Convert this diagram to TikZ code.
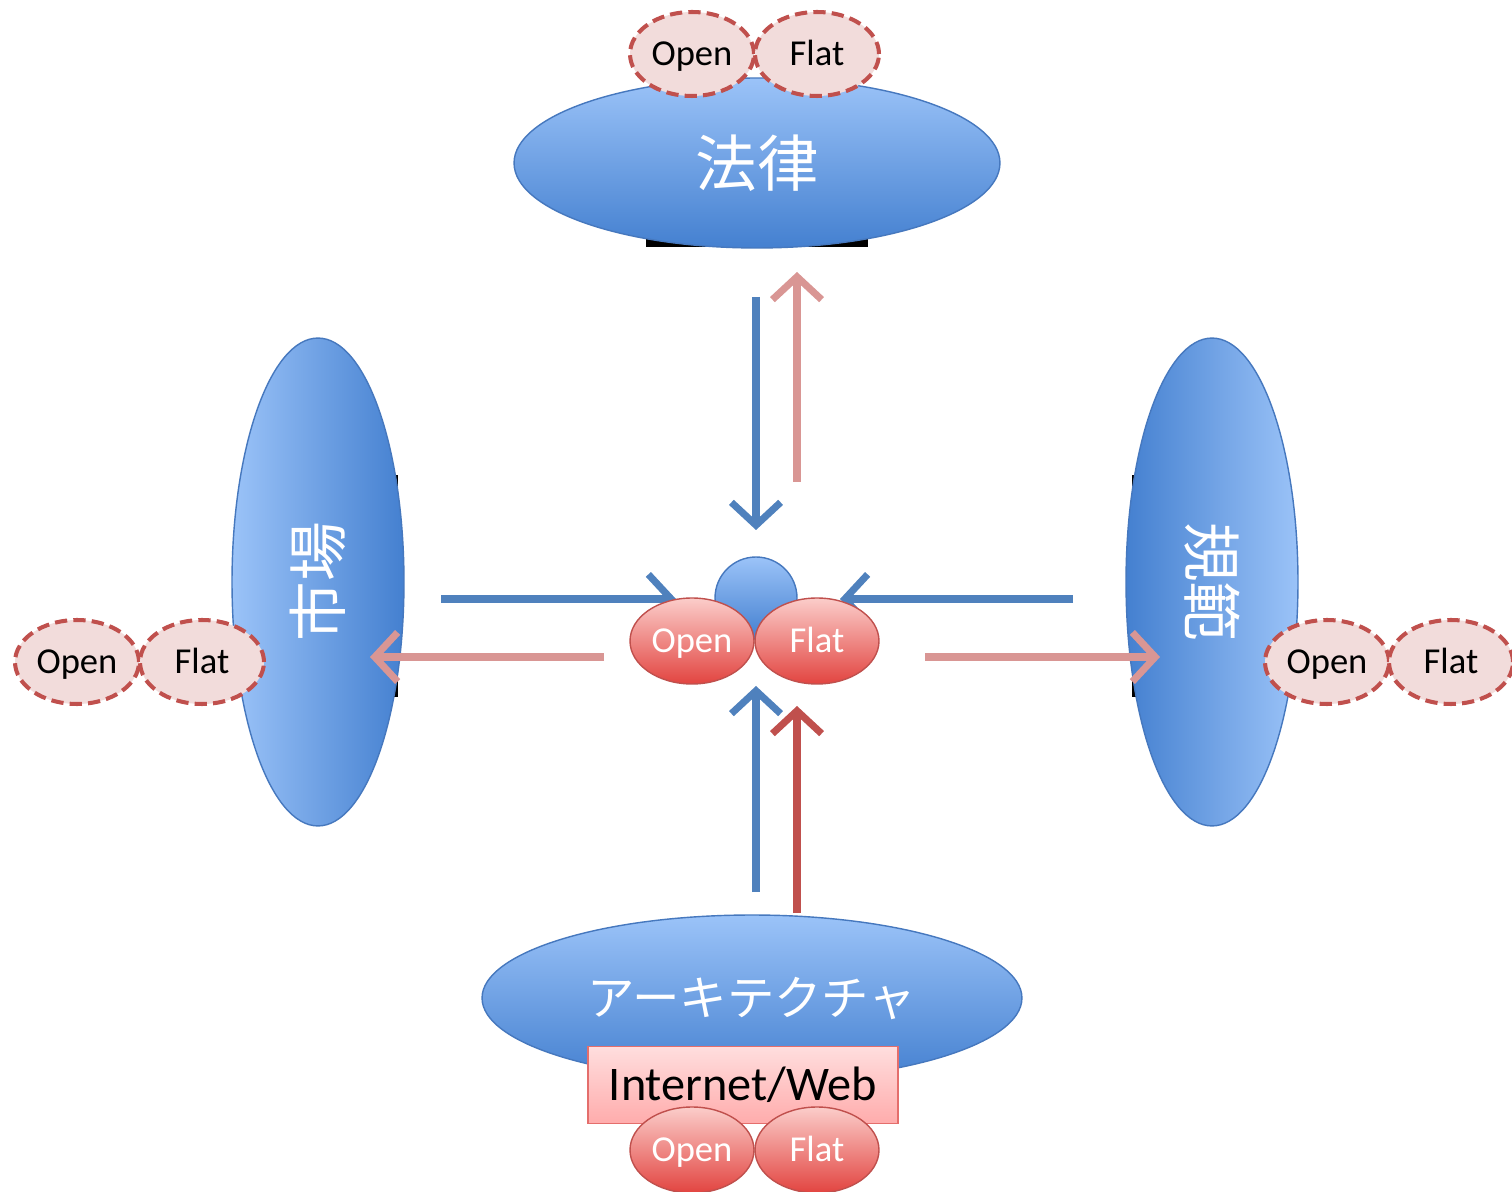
\documentclass[tikz,border=0pt]{standalone}
\usepackage{fontspec}
\setmainfont{Carlito}
\newfontfamily\cjk{Noto Sans CJK JP}
\usetikzlibrary{shapes.geometric,arrows.meta}
\definecolor{blueL}{RGB}{155,195,248}
\definecolor{blueD}{RGB}{68,128,208}
\definecolor{bluebd}{RGB}{70,120,190}
\definecolor{arrblue}{RGB}{79,129,189}
\definecolor{arrpink}{RGB}{217,150,148}
\definecolor{arrred}{RGB}{192,80,77}
\definecolor{tagfill}{RGB}{242,220,219}
\definecolor{redL}{RGB}{251,205,202}
\definecolor{redD}{RGB}{226,68,64}
\definecolor{rectL}{RGB}{255,222,222}
\definecolor{rectD}{RGB}{255,172,172}
\definecolor{rectbd}{RGB}{228,110,108}
\begin{document}
\begin{tikzpicture}[x=0.02cm,y=-0.02cm,
  bigblue/.style={ellipse, draw=bluebd, line width=0.8pt, inner sep=0pt, text=white},
  vshade/.style={top color=blueL, bottom color=blueD},
  dashtag/.style={ellipse, draw=arrred, fill=tagfill, dash pattern=on 7pt off 3.5pt,
    line width=2.3pt, minimum width=2.48cm, minimum height=1.68cm, inner sep=0pt,
    text height=13pt, text depth=0.2pt,
    font=\fontsize{20.8}{24}\selectfont},
  redtag/.style={ellipse, draw=arrred, line width=0.8pt, top color=redL, bottom color=redD,
    minimum width=2.48cm, minimum height=1.72cm, inner sep=0pt, text=white,
    text height=13pt, text depth=0.2pt,
    font=\fontsize{20.8}{24}\selectfont},
  arr/.style={line width=4pt, -{Straight Barb[length=13pt,width=28pt]}},
  bar/.style={fill=black, draw=none}]
\useasboundingbox (0,0) rectangle (1512,1192);
\fill[white] (0,0) rectangle (1512,1192);

% black bars behind ellipses
\node[bar, minimum width=4.46cm, minimum height=0.3cm, inner sep=0pt] (lawbar) at (757,240) {};
\node[bar, minimum width=0.2cm, minimum height=4.44cm, inner sep=0pt] (mktbar) at (393,586) {};
\node[bar, minimum width=0.2cm, minimum height=4.44cm, inner sep=0pt] (normbar) at (1137,586) {};

% big ellipses
\node[bigblue, vshade, minimum width=9.72cm, minimum height=3.4cm,
  font=\cjk\fontsize{35}{40}\selectfont] (law) at (757,163) {法律};
\node[bigblue, left color=blueL, right color=blueD, minimum width=3.44cm, minimum height=9.76cm,
  font=\cjk\fontsize{34}{40}\selectfont] (market) at (318,582) {\rotatebox{90}{市場}};
\node[bigblue, left color=blueD, right color=blueL, minimum width=3.44cm, minimum height=9.76cm,
  font=\cjk\fontsize{34}{40}\selectfont] (norm) at (1212,582) {\rotatebox{-90}{規範}};
\node[bigblue, vshade, minimum width=10.8cm, minimum height=3.32cm,
  font=\cjk\fontsize{27}{32}\selectfont] (arch) at (752,998) {アーキテクチャ};

% dashed tags
\node[dashtag] (lawopen) at (692,54) {Open};
\node[dashtag] (lawflat) at (817,54) {Flat};
\node[dashtag] (mktopen) at (77,662) {Open};
\node[dashtag] (mktflat) at (202,662) {Flat};
\node[dashtag] (normopen) at (1327,662) {Open};
\node[dashtag] (normflat) at (1451,662) {Flat};

% arrows
\coordinate (ld1) at (756,297); \coordinate (ld2) at (756,530);
\coordinate (lu1) at (797,482); \coordinate (lu2) at (797,272);
\coordinate (mr1) at (441,599); \coordinate (mr2) at (676,599);
\coordinate (nl1) at (1073,599); \coordinate (nl2) at (840,599);
\coordinate (ml1) at (604,657); \coordinate (ml2) at (370,657);
\coordinate (nr1) at (925,657); \coordinate (nr2) at (1160,657);
\coordinate (au1) at (756,892); \coordinate (au2) at (756,686);
\coordinate (ar1) at (797,913); \coordinate (ar2) at (797,706);
\draw[arr, arrblue] (ld1) -- (ld2);
\draw[arr, arrpink] (lu1) -- (lu2);
\draw[arr, arrblue] (mr1) -- (mr2);
\draw[arr, arrblue] (nl1) -- (nl2);
\draw[arr, arrpink] (ml1) -- (ml2);
\draw[arr, arrpink] (nr1) -- (nr2);
\draw[arr, arrblue] (au1) -- (au2);
\draw[arr, arrred] (ar1) -- (ar2);

% center
\node[circle, draw=bluebd, line width=0.8pt, vshade, minimum size=1.64cm, inner sep=0pt] (core) at (756,598) {};
\node[redtag] (copen) at (692,641) {Open};
\node[redtag] (cflat) at (817,641) {Flat};

% bottom
\node[draw=rectbd, line width=0.8pt, top color=rectL, bottom color=rectD,
  minimum width=6.2cm, minimum height=1.54cm, inner sep=0pt,
  font=\fontsize{27.5}{32}\selectfont] (web) at (743,1085) {Internet/Web};
\node[redtag] (bopen) at (692,1150) {Open};
\node[redtag] (bflat) at (817,1150) {Flat};
\end{tikzpicture}
\end{document}
